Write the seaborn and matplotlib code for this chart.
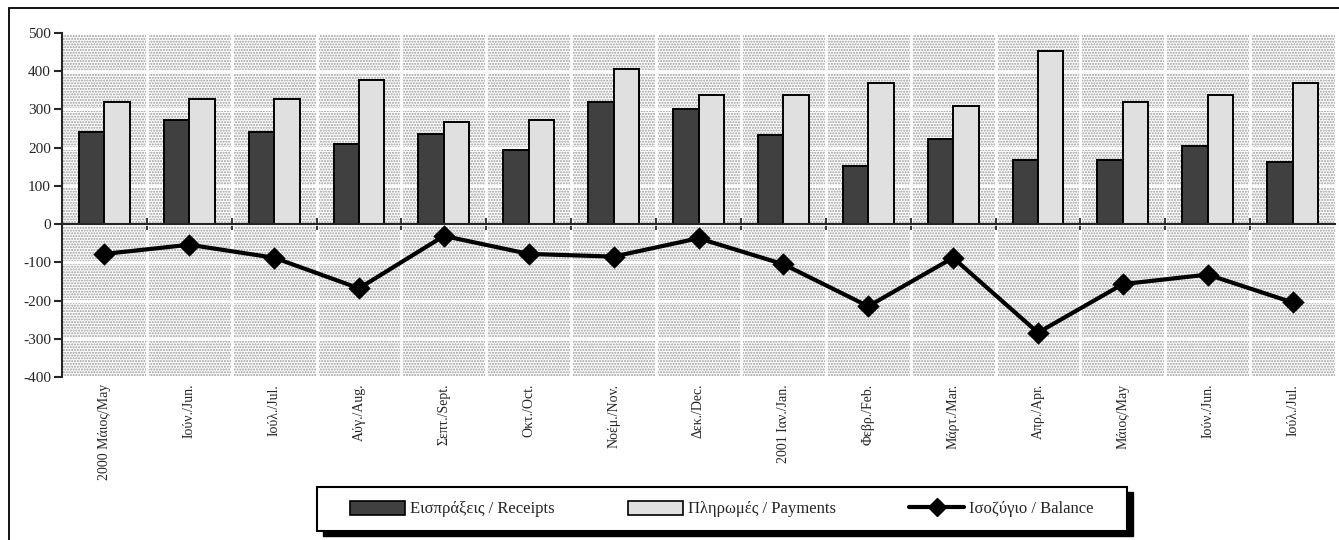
import numpy as np
import pandas as pd
import matplotlib
matplotlib.use('Agg')
import matplotlib.pyplot as plt
import seaborn as sns
from matplotlib.patches import Patch, Rectangle
from matplotlib.lines import Line2D

# Μηνιαία στοιχεία (εκατ. ευρώ)
months = ['2000 Μάιος/May', 'Ιούν./Jun.', 'Ιούλ./Jul.', 'Αύγ./Aug.', 'Σεπτ./Sept.',
          'Οκτ./Oct.', 'Νοέμ./Nov.', 'Δεκ./Dec.', '2001 Ιαν./Jan.', 'Φεβρ./Feb.',
          'Μάρτ./Mar.', 'Απρ./Apr.', 'Μάιος/May', 'Ιούν./Jun.', 'Ιούλ./Jul.']
receipts = [242, 273, 242, 210, 237, 195, 320, 300, 232, 153, 222, 168, 168, 205, 163]
payments = [320, 327, 327, 378, 268, 273, 405, 337, 337, 368, 310, 452, 320, 337, 368]
balance = [-78, -54, -88, -168, -31, -78, -85, -37, -105, -215, -88, -284, -157, -132, -205]

label_receipts = 'Εισπράξεις / Receipts'
label_payments = 'Πληρωμές / Payments'
label_balance = 'Ισοζύγιο / Balance'

dark = '#404040'
light = '#e0e0e0'

W, H = 1339, 540


def build_frames():
    idx = list(range(len(months)))
    bars = pd.DataFrame({
        'pos': idx * 2,
        'value': receipts + payments,
        'series': [label_receipts] * len(idx) + [label_payments] * len(idx),
    })
    line = pd.DataFrame({'pos': idx, 'value': balance})
    return bars, line


# Pixel (von oben links) -> Figurkoordinaten
def fx(px):
    return px / W


def fy(py):
    return 1 - py / H


def main():
    sns.set_style('white')
    plt.rcParams['font.family'] = ['Liberation Serif', 'DejaVu Serif']
    plt.rcParams['axes.unicode_minus'] = False
    plt.rcParams['hatch.linewidth'] = 1.0

    bars, line = build_frames()

    fig = plt.figure(figsize=(W / 100, H / 100), dpi=100)
    ax = fig.add_axes([fx(62), fy(377), fx(1335 - 62), (377 - 33) / H])

    # gepunkteter Hintergrund
    ax.patch.set_facecolor('white')
    ax.patch.set_edgecolor('#9a9a9a')
    ax.patch.set_hatch('......')
    ax.patch.set_linewidth(0)

    sns.barplot(data=bars, x='pos', y='value', hue='series',
                palette=[dark, light], width=0.6, gap=0,
                edgecolor='black', linewidth=1.4, legend=False, ax=ax, zorder=3)
    sns.pointplot(data=line, x='pos', y='value', color='black', markers='D',
                  markersize=9, linewidth=3, ax=ax, zorder=4)

    n = len(months)
    ax.set_xlim(-0.5, n - 0.5)
    ax.set_ylim(-400, 500)
    ax.set_yticks(np.arange(-400, 501, 100))
    ax.set_xlabel('')
    ax.set_ylabel('')

    # weisse Gitterlinien
    ax.set_axisbelow(True)
    ax.yaxis.grid(True, color='white', linewidth=2)
    ax.set_xticks(np.arange(n - 1) + 0.5, minor=True)
    ax.xaxis.grid(True, which='minor', color='white', linewidth=2)

    # Nulllinie mit Trennstrichen
    for s in ['top', 'right']:
        ax.spines[s].set_visible(False)
    ax.spines['bottom'].set_position(('data', 0))
    ax.spines['bottom'].set_linewidth(1.5)
    ax.spines['bottom'].set_zorder(5)
    ax.spines['left'].set_linewidth(1.5)
    ax.set_xticks([])
    ax.tick_params(axis='x', which='minor', direction='inout', length=9, width=1.3,
                   bottom=True, labelbottom=False)
    ax.tick_params(axis='y', direction='out', length=6, width=1.5, left=True,
                   labelsize=11, pad=2)

    sec = ax.secondary_xaxis('bottom')
    sec.set_xticks(range(n), months, rotation=90, fontsize=10)
    sec.tick_params(length=0, pad=5)
    sec.spines['bottom'].set_visible(False)

    # Legende mit eigenem Rahmen und Schatten
    fig.add_artist(Rectangle((fx(323), fy(536)), fx(1127 - 317), (531 - 487) / H,
                             facecolor='black', edgecolor='black',
                             transform=fig.transFigure, zorder=1))
    fig.add_artist(Rectangle((fx(317), fy(531)), fx(1127 - 317), (531 - 487) / H,
                             facecolor='white', edgecolor='black', linewidth=1.5,
                             transform=fig.transFigure, zorder=2))

    handles = [Patch(facecolor=dark, edgecolor='black', linewidth=1.2),
               Patch(facecolor=light, edgecolor='black', linewidth=1.2),
               Line2D([], [], color='black', linewidth=3, marker='D', markersize=9)]
    leg = fig.legend(handles, [label_receipts, label_payments, label_balance],
                     loc='center', bbox_to_anchor=(fx(722), fy(509)),
                     ncol=3, fontsize=12, frameon=False,
                     handlelength=3.3, handleheight=0.9, handletextpad=0.3,
                     columnspacing=4.4, borderpad=0)
    leg.set_zorder(3)

    # Rahmen um die Grafik
    fig.add_artist(Rectangle((fx(9), -0.1), 1.2, fy(8) + 0.1, fill=False,
                             edgecolor='black', linewidth=1.3,
                             transform=fig.transFigure, clip_on=False))

    fig.savefig('out.png', dpi=100)


if __name__ == '__main__':
    main()
